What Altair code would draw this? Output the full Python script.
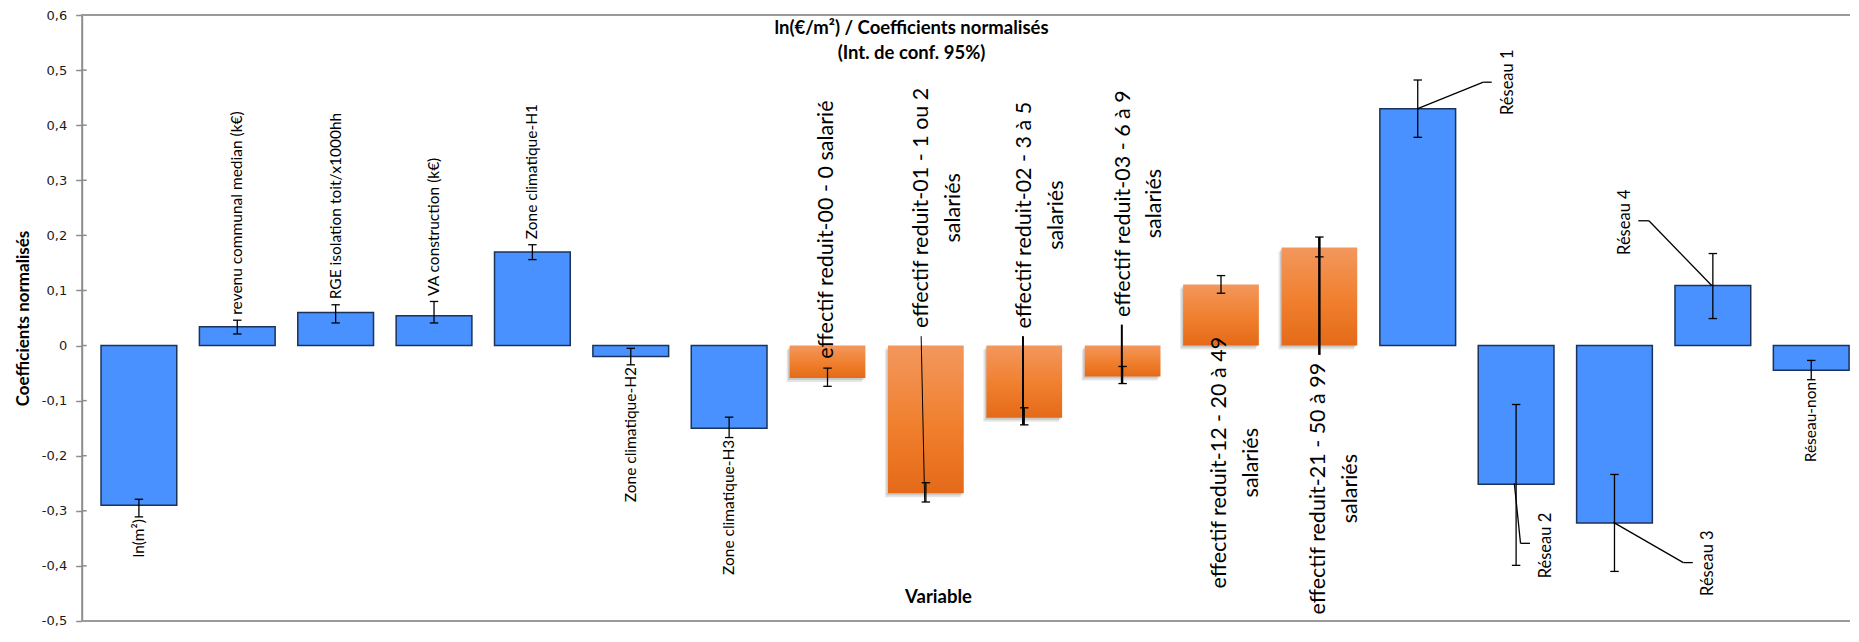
import altair as alt
import pandas as pd

# ---------------- data ----------------
categories = [
    "ln(m²)",
    "revenu communal median (k€)",
    "RGE isolation toit/x1000hh",
    "VA construction (k€)",
    "Zone climatique-H1",
    "Zone climatique-H2",
    "Zone climatique-H3",
    "effectif reduit-00 - 0 salarié",
    "effectif reduit-01 - 1 ou 2\nsalariés",
    "effectif reduit-02 - 3 à 5\nsalariés",
    "effectif reduit-03 - 6 à 9\nsalariés",
    "effectif reduit-12 - 20 à 49\nsalariés",
    "effectif reduit-21 - 50 à 99\nsalariés",
    "Réseau 1",
    "Réseau 2",
    "Réseau 3",
    "Réseau 4",
    "Réseau-non",
]
coefficients = [-0.290, 0.034, 0.060, 0.054, 0.170, -0.020, -0.150,
                -0.059, -0.268, -0.131, -0.056, 0.111, 0.178,
                0.430, -0.252, -0.322, 0.109, -0.045]
ci_low = [-0.311, 0.021, 0.041, 0.041, 0.156, -0.035, -0.167,
          -0.074, -0.284, -0.144, -0.069, 0.095, 0.161,
          0.378, -0.399, -0.410, 0.049, -0.062]
ci_high = [-0.279, 0.046, 0.074, 0.080, 0.183, -0.005, -0.130,
           -0.041, -0.249, -0.113, -0.038, 0.127, 0.197,
           0.482, -0.107, -0.234, 0.167, -0.027]
series = ["base"] * 7 + ["effectif"] * 6 + ["base"] * 5

y_ticks = [-0.5, -0.4, -0.3, -0.2, -0.1, 0.0, 0.1, 0.2, 0.3, 0.4, 0.5, 0.6]

# annotation placement (data units) for labels that Excel moved by hand
eff_label_idx = [7.992, 8.96, 10.012, 11.01, 11.99, 13.0]
eff_label_y = [0.2105, 0.250, 0.2366, 0.2576, -0.2127, -0.2598]
eff_leader_x1 = [8.952, 9.987, 10.992, 13.0]
eff_leader_y1 = [0.017, 0.017, 0.038, 0.197]
eff_leader_x2 = [8.988, 9.987, 10.992, 13.0]
eff_leader_y2 = [-0.284, -0.144, -0.069, -0.017]
eff_leader_w = [1.0, 2.0, 2.0, 2.5]

res_names = ["Réseau 1", "Réseau 2", "Réseau 3", "Réseau 4"]
res_label_idx = [14.913, 15.304, 16.954, 16.107]
res_label_y = [0.478, -0.363, -0.395, 0.224]
res_path_x = [[14.0, 14.667, 14.752], [14.982, 15.045, 15.141],
              [15.99, 16.70, 16.796], [16.988, 16.35, 16.242]]
res_path_y = [[0.430, 0.478, 0.478], [-0.2504, -0.359, -0.359],
              [-0.321, -0.394, -0.394], [0.109, 0.2265, 0.2265]]

# ---------------- tables ----------------
df = pd.DataFrame({
    "cat": categories,
    "idx": list(range(1, len(categories) + 1)),
    "v": coefficients,
    "lo": ci_low,
    "hi": ci_high,
    "serie": series,
})
df["auto"] = [(s == "base") and (c not in res_names) for s, c in zip(series, categories)]

eff = df[df["serie"] == "effectif"].reset_index(drop=True)
eff_lab = pd.DataFrame({"txt": eff["cat"], "x": eff_label_idx, "y": eff_label_y})
eff_lead = pd.DataFrame({"xa": eff_leader_x1, "ya": eff_leader_y1,
                         "xb": eff_leader_x2, "yb": eff_leader_y2, "w": eff_leader_w})
res_lab = pd.DataFrame({"txt": res_names, "x": res_label_idx, "y": res_label_y})
segs = []
for px, py in zip(res_path_x, res_path_y):
    for i in range(len(px) - 1):
        segs.append({"xa": px[i], "ya": py[i], "xb": px[i + 1], "yb": py[i + 1]})
res_seg = pd.DataFrame(segs)
ticks_df = pd.DataFrame({"t": y_ticks})

# ---------------- layout ----------------
W, H = 1768, 606
HALF = 0.385
CAP = 0.043
xs = alt.Scale(domain=[0.4185, 18.391], nice=False, zero=False)
ys = alt.Scale(domain=[-0.5, 0.6], nice=False, zero=False)
GRAY = "#8c8c8c"

yaxis = alt.Axis(
    values=y_ticks,
    labelExpr="abs(datum.value) < 1e-9 ? '0' : (datum.value < 0 ? '-' : '') + replace(format(abs(datum.value), '.1f'), '.', ',')",
    grid=False,
    domainColor=GRAY, domainWidth=2,
    tickColor=GRAY, tickSize=6, tickWidth=1.5,
    labelFont="DejaVu Sans", labelFontSize=13, labelColor="#1a1a1a", labelPadding=9,
    title="Coefficients normalisés",
    titleFont="Lato", titleFontSize=17, titleFontWeight="bold", titleColor="#000000",
    titleAngle=270, titleX=-58.4, titleY=H / 2, titleAlign="center", titleBaseline="middle",
)


def X(f):
    return alt.X(f, type="quantitative", scale=xs, axis=None)


def Y(f):
    return alt.Y(f, type="quantitative", scale=ys, axis=yaxis)


base = alt.Chart(df)
bars_calc = base.transform_calculate(xa=f"datum.idx - {HALF}", xb=f"datum.idx + {HALF}", z="0")

grad = alt.Gradient(
    gradient="linear",
    stops=[alt.GradientStop(color="#F3975D", offset=0),
           alt.GradientStop(color="#F07F2D", offset=0.55),
           alt.GradientStop(color="#E46A18", offset=1)],
    x1=0, x2=0, y1=0, y2=1,
)

blue = bars_calc.transform_filter("datum.serie == 'base'").mark_bar(
    color="#4891FF", stroke="#1B3358", strokeWidth=1.5
).encode(x=X("xa"), x2="xb", y=Y("v"), y2="z:Q")

shadow1 = bars_calc.transform_filter("datum.serie == 'effectif'").mark_bar(
    color="#000000", opacity=0.10, xOffset=-3, x2Offset=-3, yOffset=4, y2Offset=4
).encode(x=X("xa"), x2="xb", y=Y("v"), y2="z:Q")
shadow2 = bars_calc.transform_filter("datum.serie == 'effectif'").mark_bar(
    color="#000000", opacity=0.12, xOffset=-1.5, x2Offset=-1.5, yOffset=2, y2Offset=2
).encode(x=X("xa"), x2="xb", y=Y("v"), y2="z:Q")

orange = bars_calc.transform_filter("datum.serie == 'effectif'").mark_bar(
    fill=grad
).encode(x=X("xa"), x2="xb", y=Y("v"), y2="z:Q")

err = base.mark_rule(color="#000000", strokeWidth=1.3).encode(x=X("idx"), y=Y("lo"), y2="hi")
caps_calc = base.transform_calculate(ca=f"datum.idx - {CAP}", cb=f"datum.idx + {CAP}")
cap_lo = caps_calc.mark_rule(color="#000000", strokeWidth=1.3).encode(x=X("ca"), x2="cb", y=Y("lo"))
cap_hi = caps_calc.mark_rule(color="#000000", strokeWidth=1.3).encode(x=X("ca"), x2="cb", y=Y("hi"))

eff_leaders = alt.Chart(eff_lead).mark_rule(color="#000000").encode(
    x=X("xa"), x2="xb", y=Y("ya"), y2="yb",
    strokeWidth=alt.StrokeWidth("w:Q", scale=None, legend=None),
)
res_leaders = alt.Chart(res_seg).mark_rule(color="#000000", strokeWidth=1.3).encode(
    x=X("xa"), x2="xb", y=Y("ya"), y2="yb"
)

auto = base.transform_filter("datum.auto")
lab_pos = auto.transform_filter("datum.v > 0").transform_calculate(ly="datum.hi + 0.010").mark_text(
    angle=270, align="left", baseline="middle", font="Lato", fontSize=15.5, color="#000000"
).encode(x=X("idx"), y=Y("ly"), text="cat:N")
lab_neg = auto.transform_filter("datum.v < 0").transform_calculate(ly="datum.lo - 0.004").mark_text(
    angle=270, align="right", baseline="middle", font="Lato", fontSize=15.5, color="#000000"
).encode(x=X("idx"), y=Y("ly"), text="cat:N")

res_text = alt.Chart(res_lab).mark_text(
    angle=270, align="center", baseline="middle", font="Lato", fontSize=16.5, color="#000000"
).encode(x=X("x"), y=Y("y"), text="txt:N")

eff_text = alt.Chart(eff_lab).mark_text(
    angle=270, align="center", baseline="middle", font="Lato", fontSize=21.5,
    lineBreak="\n", lineHeight=31.6, color="#000000"
).encode(x=X("x"), y=Y("y"), text="txt:N")

ticks_in = alt.Chart(ticks_df).mark_rule(color=GRAY, strokeWidth=1.5).encode(
    x=alt.value(0), x2=alt.value(5), y=Y("t")
)
border_top = alt.Chart(ticks_df).mark_rule(color="#9a9a9a", strokeWidth=1.5).encode(
    x=alt.value(0), x2=alt.value(W), y=alt.value(0)
)
border_bot = alt.Chart(ticks_df).mark_rule(color="#9a9a9a", strokeWidth=1.5).encode(
    x=alt.value(0), x2=alt.value(W), y=alt.value(H)
)

title_df = pd.DataFrame({"t": ["ln(€/m²) / Coefficients normalisés", "(Int. de conf. 95%)"],
                         "py": [13.3, 37.7]})
title = alt.Chart(title_df).mark_text(
    align="center", baseline="middle", font="Lato", fontSize=18.5, fontWeight="bold", color="#000000"
).encode(x=alt.value(829.8), y=alt.Y("py:Q", scale=None, axis=None), text="t:N")

xtitle = alt.Chart(pd.DataFrame({"t": ["Variable"]})).mark_text(
    align="center", baseline="middle", font="Lato", fontSize=18.5, fontWeight="bold", color="#000000"
).encode(x=alt.value(856.8), y=alt.value(582.3), text="t:N")

chart = alt.layer(
    blue, shadow1, shadow2, orange, err, cap_lo, cap_hi, eff_leaders, res_leaders,
    lab_pos, lab_neg, res_text, eff_text, ticks_in, border_top, border_bot, title, xtitle,
).properties(
    width=W, height=H,
    padding={"left": 73.7, "top": 7, "right": 0, "bottom": 7},
    autosize=alt.AutoSizeParams(type="none"),
).configure_view(stroke=None)

chart.save("out.html", embed_options={"renderer": "svg", "actions": False})
